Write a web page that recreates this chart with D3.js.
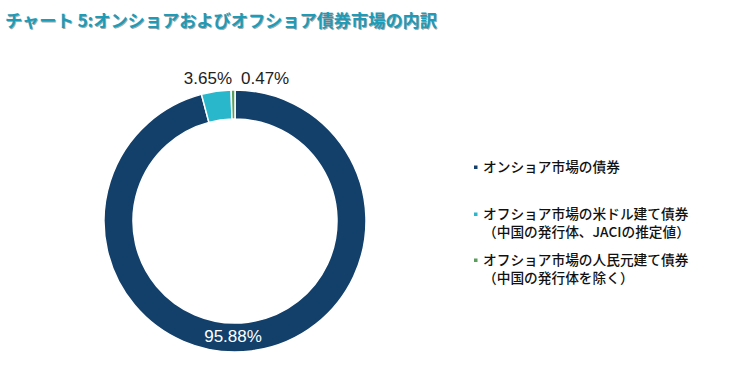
<!DOCTYPE html>
<html><head><meta charset="utf-8">
<script src="https://cdn.jsdelivr.net/npm/d3@7/dist/d3.min.js"></script>
<style>
html,body{margin:0;padding:0;background:#fff;}
svg{display:block;}
</style></head>
<body><svg id="c" width="735" height="385"></svg>
<script>
const title = "チャート 5:オンショアおよびオフショア債券市場の内訳";
const categories = ["オンショア市場の債券", "オフショア市場の米ドル建て債券（中国の発行体、JACIの推定値）", "オフショア市場の人民元建て債券（中国の発行体を除く）"];
const legendLines = [["オンショア市場の債券"], ["オフショア市場の米ドル建て債券", "（中国の発行体、JACIの推定値）"], ["オフショア市場の人民元建て債券", "（中国の発行体を除く）"]];
const values = [95.88, 3.65, 0.47];
const valueLabels = ["95.88%", "3.65%", "0.47%"];
const colors = ["#13406b", "#29b8cb", "#5b9d5b"];

const svg = d3.select("#c");
const cx = 235, cy = 221, R = 131, r = 102;

// title with shadow
const tg = svg.append("g").attr("font-family", "'Noto Sans CJK JP', sans-serif").attr("font-weight", "bold").attr("font-size", 17.2);
tg.append("text").attr("x", 6).attr("y", 28).attr("fill", "#8a979d").attr("opacity", 0.8).text(title);
tg.append("text").attr("x", 5).attr("y", 27).attr("fill", "#1e9bb6").text(title);

const pie = d3.pie().sort(null).value(d => d);
const arcs = pie(values);
const arc = d3.arc().innerRadius(r).outerRadius(R);
const g = svg.append("g").attr("transform", `translate(${cx},${cy})`);
g.selectAll("path").data(arcs).join("path")
  .attr("d", arc).attr("fill", (d, i) => colors[i])
  .attr("stroke", "#fff").attr("stroke-width", 1.5);

// labels
const lf = "'Liberation Sans', Arial, sans-serif";
g.append("text").attr("x", -2).attr("y", (R + r) / 2 + 4.5)
  .attr("text-anchor", "middle").attr("font-family", lf).attr("font-size", 17)
  .attr("fill", "#fff").text(valueLabels[0]);
g.append("text").attr("x", -3).attr("y", -R - 6)
  .attr("text-anchor", "end").attr("font-family", lf).attr("font-size", 17)
  .attr("fill", "#222").text(valueLabels[1]);
g.append("text").attr("x", 6).attr("y", -R - 6)
  .attr("text-anchor", "start").attr("font-family", lf).attr("font-size", 17)
  .attr("fill", "#222").text(valueLabels[2]);

// legend
const lg = svg.append("g").attr("font-family", "'Noto Sans CJK JP', sans-serif").attr("font-weight", 500).attr("font-size", 13.7).attr("fill", "#111");
const firstY = [167, 214, 260];
legendLines.forEach((lines, i) => {
  lg.append("rect").attr("x", 474).attr("y", firstY[i] - 1.5).attr("width", 3.5).attr("height", 3.5).attr("fill", colors[i]);
  lines.forEach((t, j) => {
    lg.append("text").attr("x", 483).attr("y", firstY[i] + j * 18).attr("dy", "0.36em").text(t);
  });
});
</script></body></html>
